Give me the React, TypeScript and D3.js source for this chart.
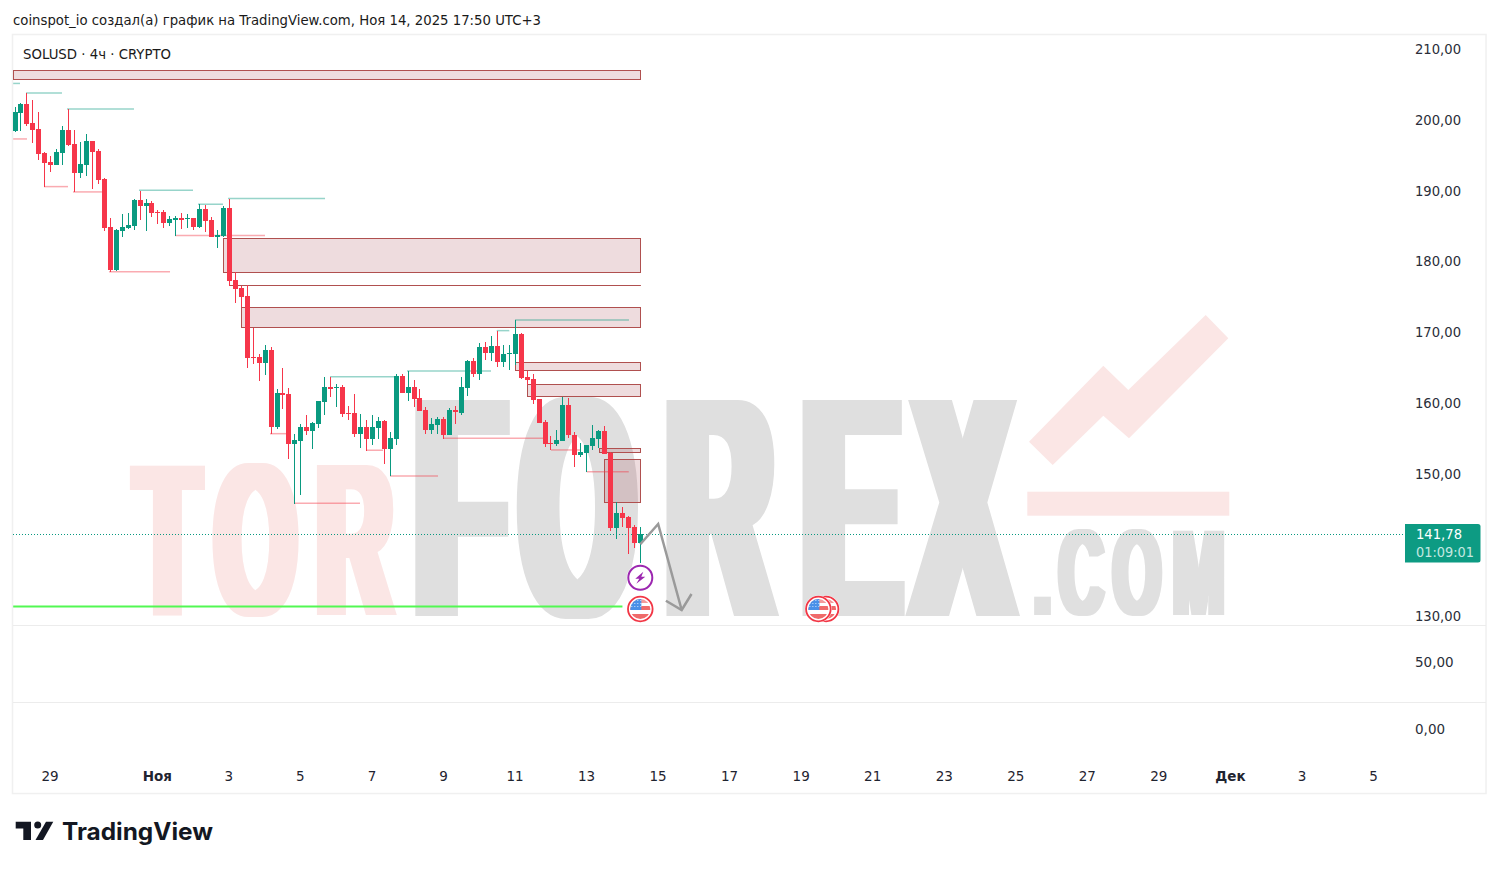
import React from "react";
import * as d3 from "d3";

const opens = [198.71,201.30,202.53,199.84,198.99,195.60,194.33,193.91,195.60,198.85,196.88,192.78,193.91,197.30,195.89,191.93,185.15,179.08,184.59,185.01,185.29,188.97,188.12,188.54,187.27,187.27,185.72,186.14,186.42,186.28,186.42,185.15,187.69,186.14,183.74,183.88,187.84,177.67,176.54,175.41,166.79,166.79,165.94,167.78,156.91,161.71,161.57,154.50,154.93,156.91,156.34,157.33,160.44,162.55,162.41,162.55,158.88,158.88,155.92,156.91,155.21,156.76,157.75,153.80,155.21,164.11,161.71,162.55,161.00,159.31,156.48,157.19,158.03,155.77,159.31,158.88,162.41,166.23,164.39,168.20,167.36,168.35,166.09,167.22,167.22,170.04,163.97,163.68,160.86,157.61,154.65,154.50,154.93,160.01,155.77,152.95,153.23,154.22,155.21,156.34,153.23,142.64,144.76,144.19,142.78,140.52];
const highs = [202.15,202.70,204.13,203.09,201.40,195.70,195.18,196.12,199.42,201.82,198.85,197.16,198.29,197.30,196.17,192.07,186.42,184.87,186.99,187.13,189.11,190.24,189.11,188.83,187.55,187.55,186.71,186.71,187.13,186.99,186.42,188.40,188.26,186.57,184.73,188.12,189.11,178.80,176.82,176.91,170.89,167.22,168.49,168.20,162.27,165.24,162.41,155.92,157.33,158.60,157.61,160.58,163.97,163.97,162.98,162.84,159.87,161.57,158.74,157.89,158.60,158.32,157.89,156.20,164.39,164.39,164.81,163.54,162.27,159.73,158.18,158.32,158.32,159.59,159.87,163.97,166.37,166.65,168.77,168.91,169.76,170.46,168.49,168.49,172.02,170.18,164.81,164.39,160.86,157.89,155.63,156.48,161.14,161.00,156.20,154.65,154.36,157.19,156.48,157.05,153.37,146.31,145.61,144.33,143.06,142.78];
const lows = [198.62,198.76,199.47,197.06,194.62,190.85,192.97,193.91,193.91,196.59,190.10,192.07,192.36,190.52,191.23,184.59,178.80,178.98,183.74,184.87,184.73,186.14,184.59,186.57,185.58,185.01,185.29,183.88,184.87,185.01,184.73,185.01,184.45,183.74,182.19,183.74,176.82,174.47,173.81,165.24,165.80,163.40,164.25,155.92,156.62,159.45,152.39,146.03,147.30,155.78,153.80,156.76,158.60,161.14,159.73,158.32,157.89,155.49,153.94,153.52,154.36,155.21,151.68,149.98,154.36,161.71,160.58,159.73,159.17,155.92,155.92,155.92,155.21,155.77,157.33,158.60,161.28,163.97,163.54,166.37,166.23,165.38,165.38,164.96,165.66,163.68,162.84,160.15,157.47,154.08,153.66,154.22,154.93,155.35,151.26,152.67,150.55,153.66,153.94,153.09,142.22,141.09,142.78,138.97,139.82,137.70];
const closes = [201.40,202.53,199.70,198.85,195.46,194.19,193.91,195.75,198.85,196.73,192.78,194.05,197.30,195.75,191.79,185.01,179.08,184.73,185.15,185.44,188.97,188.12,188.54,187.13,187.13,185.72,186.28,186.42,186.14,186.42,185.15,187.69,186.00,183.74,184.02,187.84,177.53,176.40,175.27,166.65,166.65,165.94,167.78,156.91,161.71,161.42,154.50,155.07,156.91,156.34,157.47,160.58,162.55,162.27,162.55,158.74,158.74,155.92,156.91,155.21,156.91,157.75,153.80,155.35,164.11,161.71,162.55,160.86,159.17,156.48,157.33,158.03,155.77,159.31,159.02,162.55,166.23,164.39,168.20,167.36,168.35,166.09,167.22,167.36,170.04,163.83,163.54,160.72,157.47,154.50,154.50,155.07,160.01,155.77,152.95,153.37,154.36,155.35,156.34,153.09,142.64,144.76,144.05,142.64,140.52,141.78];

// [start bar, end bar, top price, bottom price]
const zones = [
  [-0.3,105.1,207.19,206.02],
  [34.98,105.1,183.56,178.76],
  [38.07,105.1,173.81,170.99],
  [84.0,105.1,166.05,164.86],
  [86.03,105.1,162.94,161.19],
  [98.07,105.1,153.9,153.28],
  [98.96,105.1,152.34,146.27],
];
const thinZone = [36.1,105.1,176.92];
// [start bar, end bar, price]
const highLevels = [
  [-0.3,0.84,205.42],[1.85,7.89,204.08],[8.73,19.98,201.82],[20.82,29.89,190.34],[30.73,34.93,188.36],
  [35.77,52.06,189.18],[52.9,63.64,164.01],[65.83,79.93,164.82],[80.89,83.0,170.51],[83.96,103.1,172.02],
];
const lowLevels = [
  [-0.3,2.02,197.58],[4.87,8.9,190.85],[9.74,14.6,190.1],[15.78,26.03,178.84],[26.87,41.98,183.93],
  [42.82,45.68,155.96],[46.85,57.93,146.13],[58.94,61.8,153.62],[62.97,71.03,149.99],[71.87,88.66,155.31],
  [90.01,94.88,153.66],[96.0,103.06,150.59],
];
const supportLevel = [-0.3,102,131.55];
const arrowPath = [[105,140.34],[108,143.21],[111.95,131.06]];
const arrowHead = [[109.3,132.37],[111.95,131.06],[113.6,133.32]];
const flagEvents = [[136.2,131.2],[134.9,131.2],[105,131.2]];
const boltEvent = [105,135.62];

const priceTicks = [210,200,190,180,170,160,150,130];
const subTicks = [50,0];
const dayTicks = [
  [0,"29"],[3,"Ноя"],[5,"3"],[7,"5"],[9,"7"],[11,"9"],[13,"11"],[15,"13"],[17,"15"],[19,"17"],[21,"19"],
  [23,"21"],[25,"23"],[27,"25"],[29,"27"],[31,"29"],[33,"Дек"],[35,"3"],[37,"5"],
] as [number,string][];
const boldDays = ["Ноя","Дек"];
const lastPrice = 141.78;
const lastPriceText = "141,78";
const countdownText = "01:09:01";
const headerText = "coinspot_io создал(а) график на TradingView.com, Ноя 14, 2025 17:50 UTC+3";
const symbolText = "SOLUSD · 4ч · CRYPTO";

const UP = "#0a9a80", DOWN = "#f6364a";
const FONT = "'DejaVu Sans', sans-serif";
const fmt = (v:number)=>v.toFixed(2).replace(".",",");

const x = d3.scaleLinear().domain([0,105]).range([15,640.3]);
const y = d3.scaleLinear().domain([130,210]).range([617.5,51]);
const ySub = d3.scaleLinear().domain([0,50]).range([730.5,663.5]);
const xDay = d3.scaleLinear().domain([0,37]).range([50,1373.5]);
const line = d3.line<number[]>().x(d=>x(d[0])).y(d=>y(d[1]));
const snap = (v:number)=>Math.round(v-0.5)+0.5;

function Flag({cx,cy,id}:{cx:number,cy:number,id:string}){
  const dots:React.ReactNode[]=[];
  for(let i=0;i<4;i++)for(let j=0;j<3;j++)dots.push(<rect key={i+"-"+j} x={cx-9+i*3} y={cy-9+j*3} width={1} height={1} fill="#cfe3fb"/>);
  return <g>
    <circle cx={cx} cy={cy} r={13.5} fill="#fff"/>
    <circle cx={cx} cy={cy} r={12.3} fill="#fff" stroke="#f23645" strokeWidth={1.8}/>
    <clipPath id={id}><circle cx={cx} cy={cy} r={10}/></clipPath>
    <g clipPath={`url(#${id})`}>
      <rect x={cx-11} y={cy-10} width={22} height={4} fill="#f49a9a"/>
      <rect x={cx-11} y={cy-3} width={22} height={4} fill="#ef6a6a"/>
      <rect x={cx-11} y={cy+5} width={22} height={6} fill="#ef6a6a"/>
      <rect x={cx-11} y={cy-10} width={12} height={11} fill="#4a90e8"/>
      {dots}
    </g>
  </g>;
}

export default function App(){
  const lastY = snap(y(lastPrice));
  return <svg width={1499} height={869} style={{position:"absolute",left:0,top:0,background:"#fff"}}>
    <defs>
      <filter id="d1" filterUnits="userSpaceOnUse" x={0} y={380} width={1499} height={260}><feMorphology operator="dilate" radius="6.5 0"/></filter>
      <filter id="d2" filterUnits="userSpaceOnUse" x={0} y={380} width={1499} height={260}><feMorphology operator="dilate" radius="11 0"/></filter>
      <filter id="d3" filterUnits="userSpaceOnUse" x={0} y={380} width={1499} height={260}><feMorphology operator="dilate" radius="4 0"/></filter>
    </defs>
    <text x={13} y={25} fontFamily={FONT} fontSize={14} fill="#1a1a1a" textLength={528} lengthAdjust="spacingAndGlyphs">{headerText}</text>
    <rect x={12.5} y={34.5} width={1473.5} height={759} fill="none" stroke="#f0f0f0" strokeWidth={1.5}/>
    <line x1={13} x2={1486} y1={625.5} y2={625.5} stroke="#ececec"/>
    <line x1={13} x2={1486} y1={702.5} y2={702.5} stroke="#ececec"/>

    {/* watermark */}
    <g fontFamily="'Liberation Sans', sans-serif" fontWeight={700}>
      <g filter="url(#d1)" fill="#fbe6e5">
        <text transform="translate(0,615) scale(0.476,1)" x={[285,452,666].join(" ")} fontSize={218}>TOR</text>
      </g>
      <g filter="url(#d2)" fill="#dfdfdf">
        <text transform="translate(0,616) scale(0.455,1)" x={[916,1147,1468,1767,2011].join(" ")} fontSize={314}>FOREX</text>
      </g>
      <g filter="url(#d3)" fill="#e0e0e0">
        <text transform="translate(0,615) scale(0.5,1)" x={[2068,2118,2226,2346].join(" ")} fontSize={123}>.COM</text>
      </g>
    </g>
    <polygon fill="#fbe6e5" points="1029,441.7 1103.3,365.7 1128.3,390 1205.7,315 1228.3,338.3 1129,438.3 1103.3,415.7 1052.7,465"/>
    <rect x={1027.3} y={491.7} width={202} height={24} fill="#fbe6e5"/>

    {/* zones */}
    {zones.map((z,i)=>{
      const x0=snap(x(z[0])),x1=snap(x(z[1])),y0=snap(y(z[2])),y1=snap(y(z[3]));
      return <rect key={i} x={x0} y={y0} width={x1-x0} height={y1-y0} fill="rgba(150,40,50,0.16)" stroke="#b0504f" strokeWidth={1}/>;
    })}
    <line x1={x(thinZone[0])} x2={x(thinZone[1])} y1={snap(y(thinZone[2]))} y2={snap(y(thinZone[2]))} stroke="#b0504f" strokeWidth={1}/>
    {highLevels.map((l,i)=><line key={i} x1={x(l[0])} x2={x(l[1])} y1={y(l[2])} y2={y(l[2])} stroke="rgba(8,153,129,0.42)" strokeWidth={1.5}/>)}
    {lowLevels.map((l,i)=><line key={i} x1={x(l[0])} x2={x(l[1])} y1={y(l[2])} y2={y(l[2])} stroke="rgba(242,54,69,0.42)" strokeWidth={1.5}/>)}
    <line x1={x(supportLevel[0])} x2={x(supportLevel[1])} y1={y(supportLevel[2])} y2={y(supportLevel[2])} stroke="#52f852" strokeWidth={2}/>
    <line x1={13} x2={1404} y1={lastY} y2={lastY} stroke="#089981" strokeDasharray="1 2"/>

    {/* candles */}
    <g shapeRendering="crispEdges">
      {opens.map((o,i)=>{
        const c=closes[i],col=c>=o?UP:DOWN;
        const left=Math.round(x(i)-2.5);
        const t=Math.round(y(Math.max(o,c))),b=Math.round(y(Math.min(o,c)));
        const hy=Math.round(y(highs[i])),ly=Math.round(y(lows[i]));
        return <g key={i} fill={col}>
          <rect x={left+2} y={hy} width={1} height={Math.max(1,ly-hy)}/>
          <rect x={left} y={t} width={5} height={Math.max(1,b-t)}/>
        </g>;
      })}
    </g>

    {/* arrow */}
    <path d={line(arrowPath)!} fill="none" stroke="#9a9a9a" strokeWidth={2.5}/>
    <path d={line(arrowHead)!} fill="none" stroke="#9a9a9a" strokeWidth={2.5}/>

    {/* events */}
    <g>
      <circle cx={x(boltEvent[0])} cy={y(boltEvent[1])} r={13.5} fill="#fff"/>
      <circle cx={x(boltEvent[0])} cy={y(boltEvent[1])} r={12} fill="#fff" stroke="#9c27b0" strokeWidth={2}/>
      <g transform={`translate(${x(boltEvent[0])},${y(boltEvent[1])})`}>
        <path d="M3,-6 L-5,1 L-1,1 L-4,6 L5,-1 L1,-1 Z" fill="#9c27b0"/>
      </g>
    </g>
    {flagEvents.map((f,i)=><Flag key={i} id={"fl"+i} cx={x(f[0])} cy={y(f[1])}/>)}

    <text x={23} y={59} fontFamily={FONT} fontSize={14} fill="#1a1a1a" textLength={148} lengthAdjust="spacingAndGlyphs">{symbolText}</text>

    {/* price axis */}
    {priceTicks.map(t=><text key={t} x={1415} y={y(t)+3} fontFamily={FONT} fontSize={13.5} fill="#2a2e39" textLength={46} lengthAdjust="spacingAndGlyphs">{fmt(t)}</text>)}
    {subTicks.map(t=><text key={t} x={1415} y={ySub(t)+3} fontFamily={FONT} fontSize={13.5} fill="#2a2e39">{fmt(t)}</text>)}
    <path d="M1405,524 H1478 Q1480.5,524 1480.5,526.5 V560 Q1480.5,562.5 1478,562.5 H1405 Z" fill="#0d9b83"/>
    <text x={1416} y={539} fontFamily={FONT} fontSize={13.5} fill="#fff" textLength={46} lengthAdjust="spacingAndGlyphs">{lastPriceText}</text>
    <text x={1416} y={557} fontFamily={FONT} fontSize={13.5} fill="#c4e8e1" textLength={58} lengthAdjust="spacingAndGlyphs">{countdownText}</text>

    {/* time axis */}
    {dayTicks.map(([d,t],i)=><text key={i} x={xDay(d)} y={781} textAnchor="middle" fontFamily={FONT} fontSize={13.5} fontWeight={boldDays.includes(t)?700:400} fill="#1f2430">{t}</text>)}

    {/* logo */}
    <g fill="#131722">
      <path d="M15.7,821.7 H31 V840 H23.3 V828.5 H15.7 Z"/>
      <circle cx={37.7} cy={825} r={3.5}/>
      <polygon points="46,821.7 53.3,821.7 43,840 35.5,840"/>
      <text x={62} y={840} fontFamily="Inter, sans-serif" fontWeight={700} fontSize={24} textLength={151} lengthAdjust="spacingAndGlyphs">TradingView</text>
    </g>
  </svg>;
}
